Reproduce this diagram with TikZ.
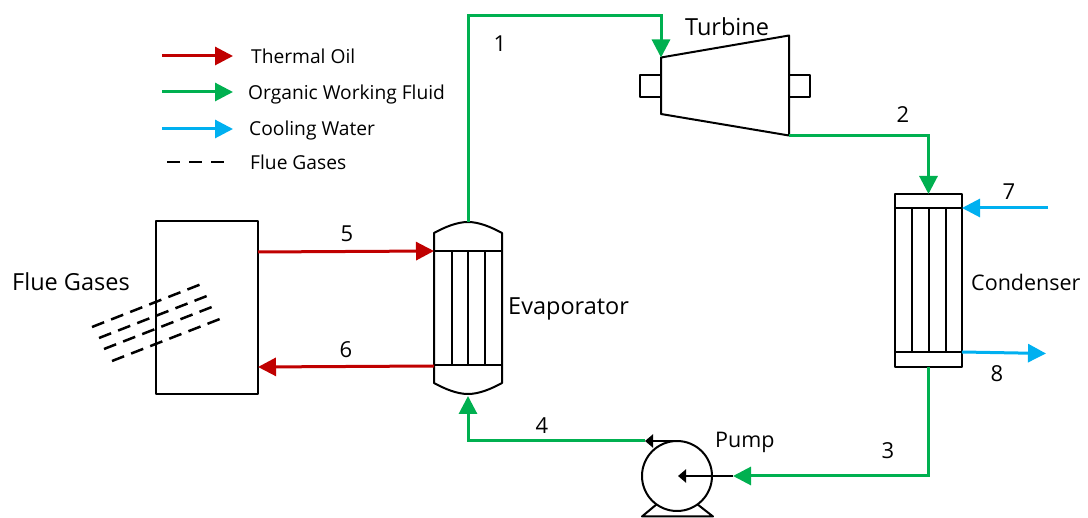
\documentclass[tikz,border=0pt]{standalone}
\usepackage{fontspec}
\setmainfont{Open Sans}
\usetikzlibrary{arrows.meta}
\definecolor{oilred}{RGB}{192,0,0}
\definecolor{orcgreen}{RGB}{0,176,80}
\definecolor{cwblue}{RGB}{0,176,240}
\tikzset{
  pipe/.style={line width=3pt,-{Triangle[length=18pt,width=18pt]}},
  oil/.style={pipe,draw=oilred,color=oilred},
  orc/.style={pipe,draw=orcgreen,color=orcgreen},
  cw/.style={pipe,draw=cwblue,color=cwblue},
  outline/.style={draw=black,line width=2pt,line join=round},
  blackflow/.style={draw=black,line width=2pt,-{Triangle[length=8pt,width=13pt]}},
  fluegas/.style={draw=black,line width=2.5pt,dash pattern=on 13pt off 7.5pt},
  vessel/.style={outline,rectangle,inner sep=0pt,outer sep=0pt},
  lab/.style={inner sep=0pt,font=\fontsize{23.5}{26}\selectfont},
  labn/.style={inner sep=0pt,font=\fontsize{21.5}{26}\selectfont},
  legendlab/.style={inner sep=0pt,font=\fontsize{19.2}{22}\selectfont},
  num/.style={inner sep=0pt,font=\fontsize{22}{26}\selectfont}
}
\begin{document}
\begin{tikzpicture}[x=1pt,y=-1pt]
\useasboundingbox (0,0) rectangle (1088,518);
% Furnace
\node[vessel,minimum width=102pt,minimum height=173pt] (furnace) at (207,307.5) {};
% Evaporator
\draw[outline] (434,233) .. controls (445,227) and (457,222) .. (468,222) .. controls (479,222) and (491,227) .. (502,233)
  -- (502,383) .. controls (491,389) and (479,394) .. (468,394) .. controls (457,394) and (445,389) .. (434,383) -- cycle;
\draw[outline] (434,251) -- (502,251) (434,365.5) -- (502,365.5)
  (451.5,251) -- (451.5,365.5) (468,251) -- (468,365.5) (485,251) -- (485,365.5);
\coordinate (evaptop) at (468,222);
\coordinate (evapbot) at (468,396);
\coordinate (evapin) at (434,251);
\coordinate (evapout) at (434,366);
% Condenser
\node[vessel,minimum width=67pt,minimum height=173pt] (cond) at (928.5,280.5) {};
\draw[outline] (895,208) -- (962,208) (895,352.5) -- (962,352.5)
  (912,208) -- (912,352.5) (929,208) -- (929,352.5) (945.5,208) -- (945.5,352.5);
% Turbine
\node[vessel,minimum width=21pt,minimum height=22pt] (tbl) at (650.5,86) {};
\node[vessel,minimum width=21pt,minimum height=22pt] (tbr) at (799.5,86) {};
\draw[outline,fill=white] (661,57.5) -- (789,35.5) -- (789,135.5) -- (661,114) -- cycle;
\coordinate (turbin) at (661,57.5);
\coordinate (turbout) at (789,135.5);
% Pump
\draw[outline] (657,504) -- (642,516.5) -- (713,516.5) -- (697,504);
\node[vessel,circle,fill=white,minimum size=70pt] (pump) at (677,476) {};
\coordinate (pumpout) at (678,441);
\coordinate (pumpinner) at (678,476);
\coordinate (pumpfeed) at (733,476);
\coordinate (pumpjoin) at (645,441);
% Black flow arrows at pump
\draw[blackflow] (pumpfeed) -- (pumpinner);
\draw[blackflow] (pumpout) -- (pumpjoin);
% Working fluid
\coordinate (c1) at (468,16);
\coordinate (c2) at (661,16);
\coordinate (c3) at (928.5,135.5);
\coordinate (c4) at (928.5,476);
\draw[orc] (evaptop) -- (c1) -- (c2) -- (turbin);
\draw[orc] (turbout) -- (c3) -- (cond.north);
\draw[orc] (cond.south) -- (c4) -- (pumpfeed);
\draw[orc] (pumpjoin) -- (pumpjoin -| evapbot) -- (evapbot);
% Thermal oil
\coordinate (furnout) at (258,252);
\coordinate (furnin) at (258,367);
\draw[oil] (furnout) -- (evapin);
\draw[oil] (evapout) -- (furnin);
% Cooling water
\coordinate (cwin) at (1048,208);
\coordinate (cwinend) at (962,208);
\coordinate (cwoutstart) at (962,352);
\coordinate (cwout) at (1046,353.5);
\draw[cw] (cwin) -- (cwinend);
\draw[cw] (cwoutstart) -- (cwout);
% Flue gas dashes
\coordinate (fa1) at (92,327); \coordinate (fa2) at (204,283);
\coordinate (fb1) at (99,338); \coordinate (fb2) at (212,294);
\coordinate (fc1) at (104,349); \coordinate (fc2) at (217,305);
\coordinate (fd1) at (112,361); \coordinate (fd2) at (225,317);
\draw[fluegas] (fa1) -- (fa2);
\draw[fluegas] (fb1) -- (fb2);
\draw[fluegas] (fc1) -- (fc2);
\draw[fluegas] (fd1) -- (fd2);
% Legend
\coordinate (l1a) at (162,56); \coordinate (l1b) at (233,56);
\coordinate (l2a) at (162,92); \coordinate (l2b) at (233,92);
\coordinate (l3a) at (162,129); \coordinate (l3b) at (233,129);
\coordinate (l4a) at (167,162); \coordinate (l4b) at (225,162);
\draw[oil] (l1a) -- (l1b);
\draw[orc] (l2a) -- (l2b);
\draw[cw] (l3a) -- (l3b);
\draw[fluegas,dash pattern=on 13pt off 9pt] (l4a) -- (l4b);
\node[legendlab,anchor=west] (tl1) at (251,56) {Thermal Oil};
\node[legendlab,anchor=west] (tl2) at (248,95) {Organic Working Fluid};
\node[legendlab,anchor=west] (tl3) at (249,131) {Cooling Water};
\node[legendlab,anchor=west] (tl4) at (250,162) {Flue Gases};
% Labels
\node[lab,anchor=west] (tflue) at (12,282) {Flue Gases};
\node[lab,anchor=west] (tevap) at (508,309) {Evaporator};
\node[lab,anchor=west] (tturb) at (685,27) {Turbine};
\node[labn,anchor=west] (tcond) at (971,282) {Condenser};
\node[labn,anchor=west] (tpump) at (715,442) {Pump};
\node[num] (n1) at (500,44) {1};
\node[num] (n2) at (903,115) {2};
\node[num] (n3) at (888,451) {3};
\node[num] (n4) at (542,426) {4};
\node[num] (n5) at (347,234) {5};
\node[num] (n6) at (346,350) {6};
\node[num] (n7) at (1009,192) {7};
\node[num] (n8) at (997,374) {8};
\end{tikzpicture}
\end{document}
